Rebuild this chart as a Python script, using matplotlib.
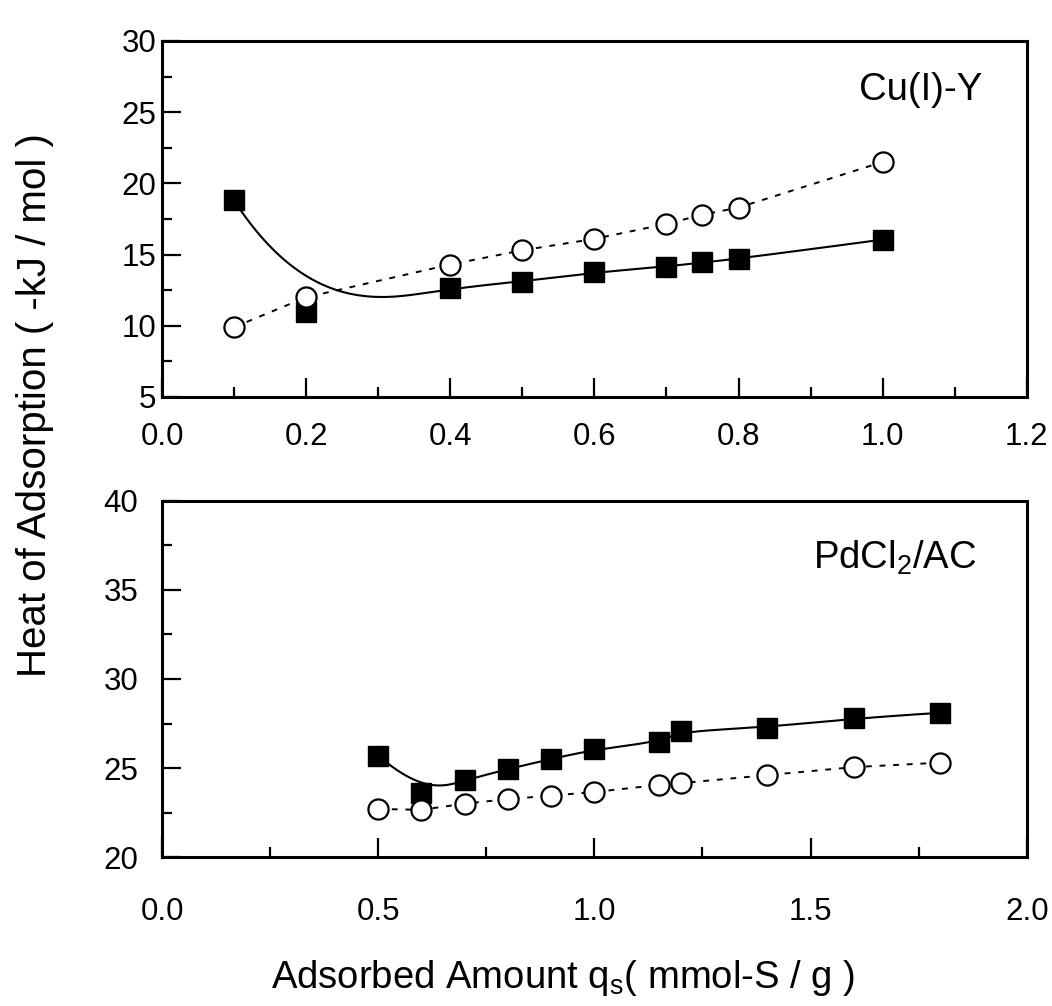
import numpy as np
import matplotlib
matplotlib.use('Agg')
import matplotlib.pyplot as plt
from matplotlib.ticker import MultipleLocator, FormatStrFormatter

plt.rcParams['font.family'] = ['Liberation Sans', 'DejaVu Sans']
plt.rcParams['mathtext.default'] = 'regular'

# Cu(I)-Y
cu_x = [0.1, 0.2, 0.4, 0.5, 0.6, 0.7, 0.75, 0.8, 1.0]
cu_sq = [18.8, 11.0, 12.65, 13.1, 13.75, 14.15, 14.45, 14.7, 16.05]
cu_circ = [9.9, 12.0, 14.3, 15.3, 16.1, 17.15, 17.8, 18.3, 21.5]

# PdCl2/AC
pd_x = [0.5, 0.6, 0.7, 0.8, 0.9, 1.0, 1.15, 1.2, 1.4, 1.6, 1.8]
pd_sq = [25.7, 23.6, 24.3, 24.95, 25.5, 26.05, 26.45, 27.1, 27.25, 27.8, 28.1]
pd_circ = [22.7, 22.65, 23.0, 23.25, 23.45, 23.65, 24.05, 24.15, 24.6, 25.05, 25.3]


def bspline(xs, ys, n=300):
    # clamped cubic B-spline with the data points as control points
    P = np.column_stack([xs, ys])
    k = 3
    m = len(P)
    knots = np.concatenate([np.zeros(k), np.arange(m - k + 1), np.full(k, m - k)]).astype(float)
    t = np.linspace(0, m - k, n)
    t[-1] -= 1e-9

    def basis(i, p, t):
        if p == 0:
            return ((knots[i] <= t) & (t < knots[i + 1])).astype(float)
        out = np.zeros_like(t)
        d1 = knots[i + p] - knots[i]
        d2 = knots[i + p + 1] - knots[i + 1]
        if d1 > 0:
            out += (t - knots[i]) / d1 * basis(i, p - 1, t)
        if d2 > 0:
            out += (knots[i + p + 1] - t) / d2 * basis(i + 1, p - 1, t)
        return out

    B = np.array([basis(i, k, t) for i in range(m)])
    curve = B.T @ P
    return curve[:, 0], curve[:, 1]


fig = plt.figure(figsize=(10.52, 10.06), dpi=100)
ax1 = fig.add_axes([0.154, 0.6054, 0.822, 0.3539])
ax2 = fig.add_axes([0.154, 0.1481, 0.822, 0.3539])


def draw(ax, x, sq, circ):
    cx, cy = bspline(x, sq)
    ax.plot(cx, cy, color='black', lw=1.5, zorder=2)
    ax.plot(x, circ, color='black', lw=1.4, linestyle=(0, (3, 4)), zorder=2)
    ax.plot(x, sq, 's', color='black', ms=14, zorder=3)
    ax.plot(x, circ, 'o', mfc='white', mec='black', mew=1.6, ms=14.5, zorder=3)


draw(ax1, cu_x, cu_sq, cu_circ)
draw(ax2, pd_x, pd_sq, pd_circ)

ax1.set_xlim(0, 1.2)
ax1.set_ylim(5, 30)
ax1.xaxis.set_major_locator(MultipleLocator(0.2))
ax1.xaxis.set_minor_locator(MultipleLocator(0.1))
ax1.yaxis.set_major_locator(MultipleLocator(5))
ax1.yaxis.set_minor_locator(MultipleLocator(2.5))

ax2.set_xlim(0, 2.0)
ax2.set_ylim(20, 40)
ax2.xaxis.set_major_locator(MultipleLocator(0.5))
ax2.xaxis.set_minor_locator(MultipleLocator(0.25))
ax2.yaxis.set_major_locator(MultipleLocator(5))
ax2.yaxis.set_minor_locator(MultipleLocator(2.5))

for ax in (ax1, ax2):
    ax.xaxis.set_major_formatter(FormatStrFormatter('%.1f'))
    for s in ax.spines.values():
        s.set_linewidth(2.2)
    ax.tick_params(which='both', direction='in', top=False, right=False, width=1.6, labelsize=22.5)
    ax.tick_params(which='major', length=14)
    ax.tick_params(which='minor', length=7)

ax1.tick_params(axis='x', which='major', pad=18)
ax1.tick_params(axis='y', which='major', pad=4)
ax2.tick_params(axis='x', which='major', pad=29)
ax2.tick_params(axis='y', which='major', pad=17)

ax1.text(0.949, 0.862, 'Cu(I)-Y', transform=ax1.transAxes, ha='right', va='center', fontsize=27.5)
ax2.text(0.942, 0.84, 'PdCl$_2$/AC', transform=ax2.transAxes, ha='right', va='center', fontsize=27.5)

fig.text(563 / 1052, 1 - 978 / 1006, 'Adsorbed Amount q$_s$( mmol-S / g )', ha='center', va='center', fontsize=27.5)
fig.text(35 / 1052, 1 - 405 / 1006, 'Heat of Adsorption ( -kJ / mol )', ha='center', va='center',
         rotation=90, fontsize=29)

fig.savefig('out.png', dpi=100)
